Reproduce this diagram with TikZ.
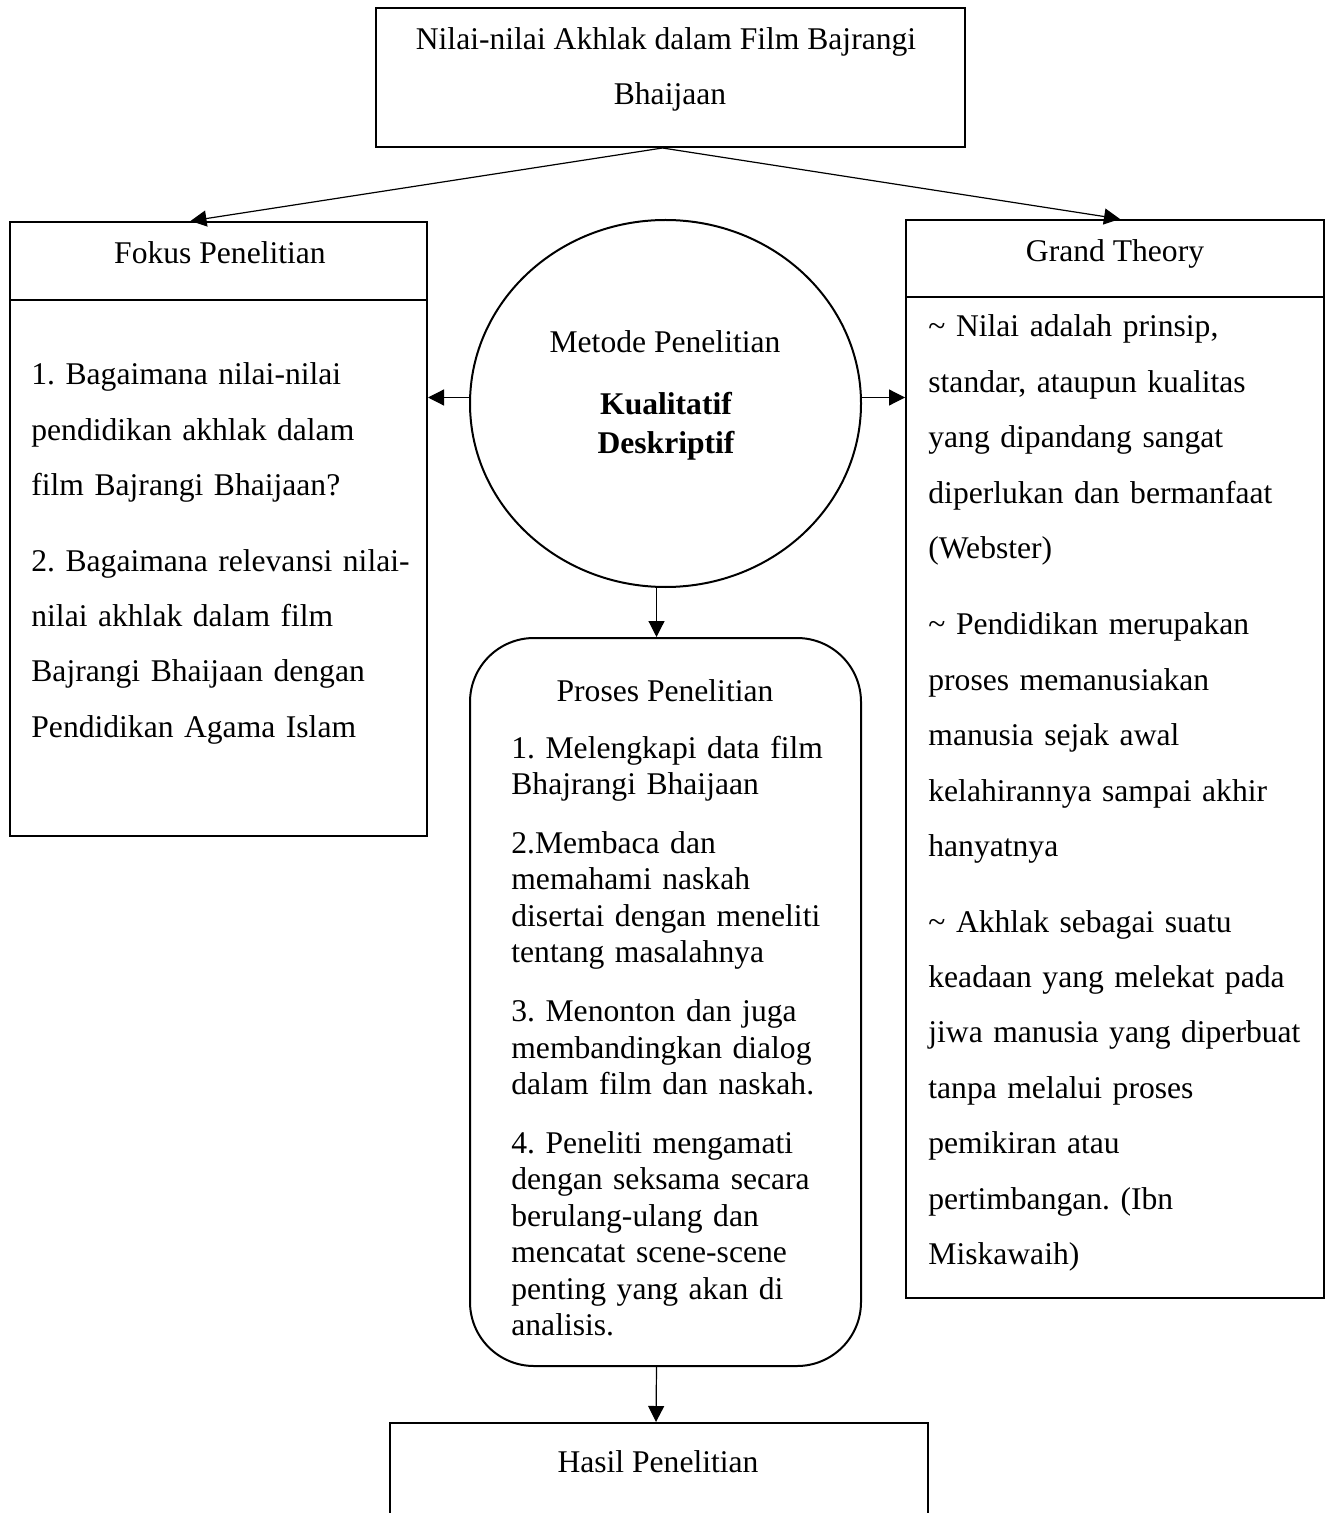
\documentclass[tikz,border=0pt]{standalone}
\usepackage{fontspec}
\setmainfont{Liberation Serif}
\usetikzlibrary{arrows.meta,shapes.geometric}
\frenchspacing
\begin{document}
\begin{tikzpicture}[x=0.5pt,y=-0.5pt,
  box/.style={draw,line width=1pt,inner sep=0pt,rectangle},
  arr/.style={line width=0.6pt,-{Triangle[length=8pt,width=8pt]}},
  lbl/.style={inner sep=0pt,font=\fontsize{15.8pt}{19pt}\selectfont},
  para/.style={inner sep=0pt,align=left,text width=#1,font=\fontsize{15.8pt}{27.7pt}\selectfont\frenchspacing},
  tight/.style={inner sep=0pt,align=left,text width=#1,font=\fontsize{15.8pt}{18.2pt}\selectfont\frenchspacing}
]
\clip (0,0) rectangle (1331,1513);
% boxes
\node[box,minimum width=294.5pt,minimum height=69.5pt] (top) at (670.5,77.5) {};
\node[box,minimum width=208.5pt,minimum height=39pt] (fh) at (218.5,261) {};
\node[box,minimum width=208.5pt,minimum height=268pt] (fb) at (218.5,568) {};
\node[box,minimum width=209pt,minimum height=38.5pt] (gh) at (1115,258.5) {};
\node[box,minimum width=209pt,minimum height=500.5pt] (gb) at (1115,797.5) {};
\node[draw,ellipse,line width=1pt,minimum width=195.5pt,minimum height=183.5pt,inner sep=0pt] (el) at (665.5,403.5) {};
\node[box,rounded corners=32pt,minimum width=195.5pt,minimum height=364pt] (pr) at (665.5,1002) {};
\node[box,anchor=north,minimum width=269pt,minimum height=100pt] (ha) at (659,1422) {};
% texts
\node[lbl,anchor=base] (t1) at (666,50) {Nilai-nilai Akhlak dalam Film Bajrangi};
\node[lbl,anchor=base] (t2) at (670,105) {Bhaijaan};
\node[lbl,anchor=base] (fht) at (220,264) {Fokus Penelitian};
\node[lbl,anchor=base] (ght) at (1115,262) {Grand Theory};
\node[lbl,anchor=base] (mt) at (665,353) {Metode Penelitian};
\node[lbl,anchor=base,font=\fontsize{15.8pt}{19pt}\selectfont\bfseries] (k1) at (666,415) {Kualitatif};
\node[lbl,anchor=base,font=\fontsize{15.8pt}{19pt}\selectfont\bfseries] (k2) at (666,453) {Deskriptif};
\node[lbl,anchor=base] (pt) at (665,701) {Proses Penelitian};
\node[lbl,anchor=base] (ht) at (658,1472) {Hasil Penelitian};
\node[para=200pt,anchor=base west] (ft) at (31,385) {1. Bagaimana nilai-nilai\\
pendidikan akhlak dalam\\
film Bajrangi Bhaijaan?\\[10pt]
2. Bagaimana relevansi nilai-\\
nilai akhlak dalam film\\
Bajrangi Bhaijaan dengan\\
Pendidikan Agama Islam};
\node[para=195pt,anchor=base west] (gt) at (928,337) {\textasciitilde{} Nilai adalah prinsip,\\
standar, ataupun kualitas\\
yang dipandang sangat\\
diperlukan dan bermanfaat\\
(Webster)\\[10.5pt]
\textasciitilde{} Pendidikan merupakan\\
proses memanusiakan\\
manusia sejak awal\\
kelahirannya sampai akhir\\
hanyatnya\\[10pt]
\textasciitilde{} Akhlak sebagai suatu\\
keadaan yang melekat pada\\
jiwa manusia yang diperbuat\\
tanpa melalui proses\\
pemikiran atau\\
pertimbangan. (Ibn\\
Miskawaih)};
\node[tight=170pt,anchor=base west] (pl) at (511,758) {1. Melengkapi data film\\
Bhajrangi Bhaijaan\\[11.3pt]
2.Membaca dan\\
memahami naskah\\
disertai dengan meneliti\\
tentang masalahnya\\[11.3pt]
3. Menonton dan juga\\
membandingkan dialog\\
dalam film dan naskah.\\[11.3pt]
4. Peneliti mengamati\\
dengan seksama secara\\
berulang-ulang dan\\
mencatat scene-scene\\
penting yang akan di\\
analisis.};
% connectors
\draw[arr] ([xshift=-4pt]top.south) -- ([xshift=-14pt]fh.north);
\draw[arr] ([xshift=-4pt]top.south) -- ([xshift=2.5pt]gh.north);
\draw[arr] ([yshift=3pt]el.west) -- ([yshift=3pt]el.west -| fb.east);
\draw[arr] ([yshift=3pt]el.east) -- ([yshift=3pt]el.east -| gb.west);
\draw[arr] ([xshift=-4.5pt]el.south) -- ([xshift=-4.5pt]pr.north);
\draw[arr] ([xshift=-4.5pt]pr.south) -- ([xshift=-1.5pt]ha.north);
\end{tikzpicture}
\end{document}
